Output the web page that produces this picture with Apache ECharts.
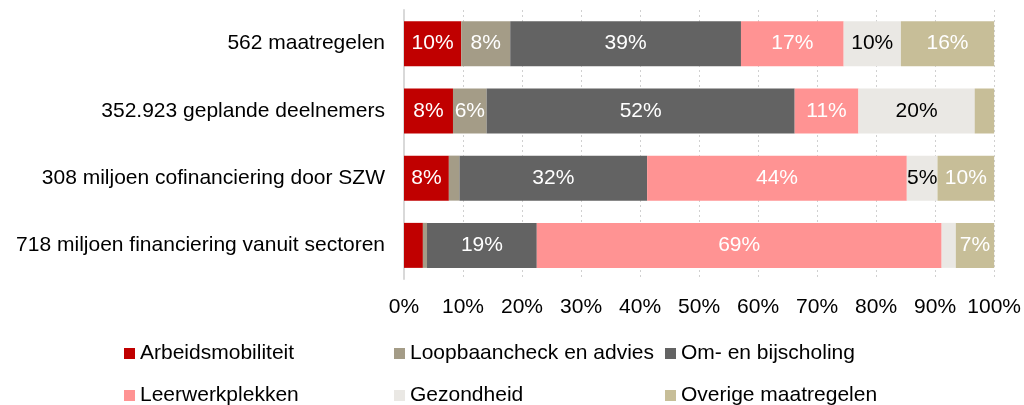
<!DOCTYPE html>
<html>
<head>
<meta charset="utf-8">
<script src="https://cdn.jsdelivr.net/npm/echarts@6/dist/echarts.min.js"></script>
<style>html,body{margin:0;padding:0;background:#fff}#c{width:1024px;height:405px}</style>
</head>
<body>
<div id="c"></div>
<script>
const categories = ['562 maatregelen', '352.923 geplande deelnemers', '308 miljoen cofinanciering door SZW', '718 miljoen financiering vanuit sectoren'];
const seriesNames = ['Arbeidsmobiliteit', 'Loopbaancheck en advies', 'Om- en bijscholing', 'Leerwerkplekken', 'Gezondheid', 'Overige maatregelen'];
const arbeidsmobiliteit = [9.7, 8.3, 7.6, 3.2];
const loopbaancheck = [8.3, 5.7, 1.8, 0.7];
const omEnBijscholing = [39.1, 52.2, 31.8, 18.6];
const leerwerkplekken = [17.4, 10.8, 44.0, 68.6];
const gezondheid = [9.7, 19.7, 5.2, 2.4];
const overige = [15.8, 3.3, 9.6, 6.5];
const xTicks = [0, 10, 20, 30, 40, 50, 60, 70, 80, 90, 100];

const values = [arbeidsmobiliteit, loopbaancheck, omEnBijscholing, leerwerkplekken, gezondheid, overige];
const colors = ['#C00000', '#A49C87', '#636363', '#FF9393', '#EAE8E4', '#C7BE98'];
const labelColors = ['#fff', '#fff', '#fff', '#fff', '#000', '#fff'];
const FONT = 'Liberation Sans, Arial, sans-serif';
const FS = 21;

const chart = echarts.init(document.getElementById('c'), null, {renderer: 'canvas'});
const series = seriesNames.map((n, i) => ({
  name: n,
  type: 'bar',
  stack: 'total',
  barWidth: 45,
  data: values[i],
  itemStyle: {color: colors[i]},
  label: {
    show: true,
    position: 'inside',
    color: labelColors[i],
    fontSize: FS,
    fontFamily: FONT,
    formatter: p => p.value >= 4.5 ? Math.round(p.value) + '%' : ''
  },
  emphasis: {disabled: true}
}));

const legendPos = [
  [124, 343], [394, 343], [665, 343],
  [124, 385], [394, 385], [665, 385]
];
const legends = seriesNames.map((n, i) => ({
  data: [n],
  left: legendPos[i][0],
  top: legendPos[i][1],
  padding: 0,
  itemWidth: 11,
  itemHeight: 11,
  icon: 'rect',
  selectedMode: false,
  textStyle: {fontSize: FS, color: '#000', fontFamily: FONT, padding: [0, 0, 0, 0]}
}));

chart.setOption({
  animation: false,
  backgroundColor: '#fff',
  grid: {left: 404, right: 27, top: 10, height: 269, containLabel: false},
  legend: legends,
  xAxis: {
    type: 'value',
    min: 0,
    max: 100,
    interval: 10,
    axisLine: {show: false},
    axisTick: {show: false},
    axisLabel: {
      color: '#000', fontSize: FS, fontFamily: FONT, margin: 18,
      formatter: v => xTicks.includes(v) ? v + '%' : ''
    },
    splitLine: {show: true, lineStyle: {color: '#d0d0d0', type: [2, 3], width: 1}}
  },
  yAxis: {
    type: 'category',
    inverse: true,
    data: categories,
    axisLine: {show: true, lineStyle: {color: '#d9d9d9', width: 2}},
    axisTick: {show: false},
    axisLabel: {color: '#000', fontSize: FS, fontFamily: FONT, margin: 19}
  },
  series: series
});
</script>
</body>
</html>
